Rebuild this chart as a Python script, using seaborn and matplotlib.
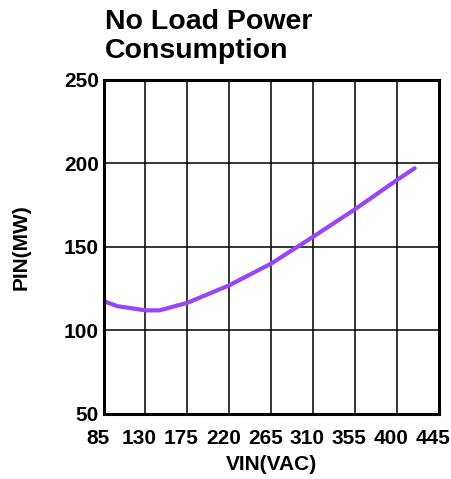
import pandas as pd
import matplotlib
matplotlib.use('Agg')
import matplotlib.pyplot as plt
import matplotlib.transforms as mtransforms
import seaborn as sns

# No load power consumption vs input voltage
vin = [85, 100, 130, 145, 175, 220, 265, 310, 355, 400, 419]
pin = [117.5, 114.5, 112, 112, 116.5, 127, 140, 156, 172.5, 190, 197]
x_ticks = [85, 130, 175, 220, 265, 310, 355, 400, 445]
y_ticks = [50, 100, 150, 200, 250]

df = pd.DataFrame({'VIN': vin, 'PIN': pin})

sns.set_style('white')
plt.rcParams['font.family'] = ['Liberation Sans', 'DejaVu Sans']
plt.rcParams['text.color'] = 'black'
plt.rcParams['axes.labelcolor'] = 'black'
plt.rcParams['xtick.color'] = 'black'
plt.rcParams['ytick.color'] = 'black'

fig = plt.figure(figsize=(4.52, 4.79), dpi=100)
ax = fig.add_axes([0.229, 0.1357, 0.742, 0.698])

sns.lineplot(data=df, x='VIN', y='PIN', color='#9a45f5', linewidth=3, ax=ax)

ax.set_xlim(85, 445)
ax.set_ylim(50, 250)
ax.set_xticks(x_ticks)
ax.set_yticks(y_ticks)
ax.set_xticklabels(x_ticks, fontsize=15, fontweight='bold')
ax.set_yticklabels(y_ticks, fontsize=15, fontweight='bold')
ax.tick_params(axis='x', length=0, pad=11)
ax.tick_params(axis='y', length=0, pad=3.5)
# labels in the original sit a little left of their gridlines
shift = mtransforms.ScaledTranslation(-6 / 100, 0, fig.dpi_scale_trans)
for lab in ax.get_xticklabels():
    lab.set_transform(lab.get_transform() + shift)

ax.grid(True, color='black', linewidth=1.1)
for s in ax.spines.values():
    s.set_color('black')
    s.set_linewidth(2.2)

ax.set_xlabel('VIN(VAC)', fontsize=15, fontweight='bold', labelpad=5)
ax.set_ylabel('PIN(MW)', fontsize=15, fontweight='bold', labelpad=24)

fig.text(0.232, 0.982, 'No Load Power\nConsumption', fontsize=20.5, fontweight='bold',
         ha='left', va='top', linespacing=1.15)

fig.savefig('out.png', dpi=100)
